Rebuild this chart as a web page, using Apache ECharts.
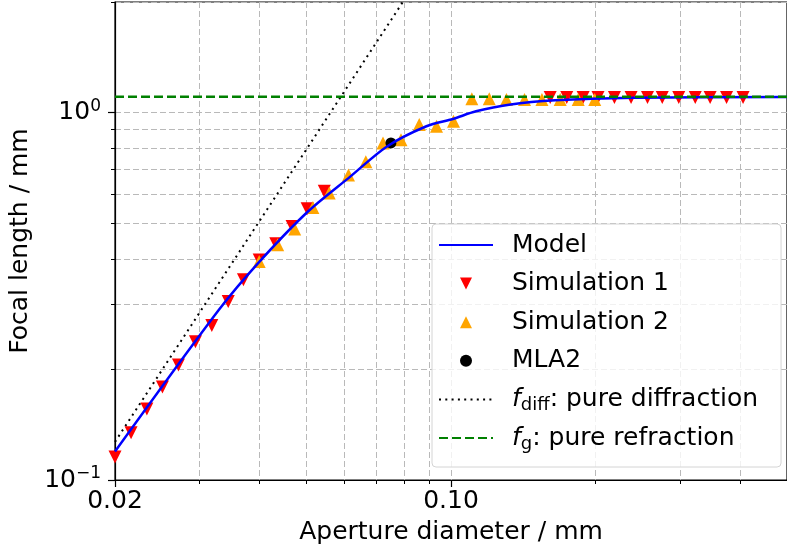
<!DOCTYPE html>
<html>
<head>
<meta charset="utf-8">
<script src="https://cdn.jsdelivr.net/npm/echarts@6/dist/echarts.min.js"></script>
<style>
  html, body { margin: 0; padding: 0; background: #fff; }
  #main { width: 787px; height: 556px; }
</style>
</head>
<body>
<div id="main"></div>
<script>
// aperture diameter (mm) / focal length (mm)
var sim1D = [0.0200, 0.0216, 0.0233, 0.0251, 0.0271, 0.0294, 0.0318, 0.0344, 0.0370, 0.0399,
             0.0432, 0.0467, 0.0502, 0.0545,
             0.1608, 0.1741, 0.1883, 0.2022, 0.2188, 0.2369, 0.2563, 0.2751, 0.2977, 0.3222,
             0.3460, 0.3743, 0.4051];
var sim1F = [0.1155, 0.1345, 0.156, 0.179, 0.2057, 0.238, 0.2633, 0.306, 0.3507, 0.397,
             0.4396, 0.49, 0.5475, 0.6104,
             1.10, 1.10, 1.10, 1.10, 1.10, 1.10, 1.10, 1.10, 1.10, 1.10,
             1.10, 1.10, 1.10];

var sim2D = [0.0399, 0.0436, 0.0473, 0.0516, 0.0558, 0.0612, 0.0665, 0.0722, 0.0787, 0.0859,
             0.0933, 0.1012, 0.1105, 0.1201, 0.1304, 0.1422, 0.1546, 0.1687, 0.1839, 0.1991];
var sim2F = [0.393, 0.437, 0.482, 0.552, 0.604, 0.676, 0.735, 0.826, 0.844, 0.928,
             0.918, 0.947, 1.090, 1.090, 1.085, 1.085, 1.085, 1.085, 1.085, 1.085];

var modelD = [0.02, 0.0329, 0.04, 0.0504, 0.0618, 0.0736, 0.0889, 0.1009, 0.1127, 0.132,
              0.1647, 0.2405, 0.5];
var modelF = [0.1195, 0.2905, 0.3935, 0.538, 0.6706, 0.809, 0.918, 0.961, 1.008, 1.051,
              1.080, 1.097, 1.103];

var mlaD = [0.0750];
var mlaF = [0.827];

var diffD = [0.02, 0.0794];
var diffF = [0.127, 2.0];

var refrD = [0.02, 0.5];
var refrF = [1.104, 1.104];

var xMajor = [0.02, 0.1];
var xMajorLabels = ['0.02', '0.10'];
var xMinor = [0.03, 0.04, 0.05, 0.06, 0.07, 0.08, 0.09, 0.2, 0.3, 0.4];
var yMajor = [0.1, 1];
var yMajorLabels = ['{b|10}{sup|\u22121}', '{b|10}{sup|0}'];
var yMinor = [0.2, 0.3, 0.4, 0.5, 0.6, 0.7, 0.8, 0.9, 2];

var legendTexts = {
  fdiff: '{i|f}{sub|diff}: pure diffraction',
  fg: '{i|f}{sub|g}: pure refraction'
};

function pairs(xs, ys) {
  return xs.map(function (x, i) { return [x, ys[i]]; });
}
function nearestLabel(v, ticks, labels) {
  var best = 0;
  for (var i = 1; i < ticks.length; i++) {
    if (Math.abs(Math.log(v / ticks[i])) < Math.abs(Math.log(v / ticks[best]))) best = i;
  }
  return labels[best];
}

var font = 'DejaVu Sans';
var gridStyle = { color: '#b9b9b9', width: 1, type: [6, 3] };
var triDown = 'path://M0,0 L2,0 L1,2 Z';
var triUp = 'path://M1,0 L2,2 L0,2 Z';
var noMarker = { opacity: 0 };

var chart = echarts.init(document.getElementById('main'));

var option = {
  animation: false,
  textStyle: { fontFamily: font },
  grid: {
    left: 115, right: -8, top: 2, bottom: 76,
    show: true, borderColor: '#000', borderWidth: 1.2, backgroundColor: 'transparent'
  },
  xAxis: [
    {
      type: 'log', min: 0.02, max: 0.5, position: 'bottom',
      name: 'Aperture diameter / mm', nameLocation: 'middle', nameGap: 40,
      nameTextStyle: { fontSize: 25, color: '#000', fontFamily: font },
      axisLine: { lineStyle: { color: '#000', width: 1.2 } },
      axisTick: { customValues: xMajor, length: 7, lineStyle: { color: '#000', width: 1.2 } },
      axisLabel: {
        customValues: xMajor, fontSize: 25, color: '#000', margin: 9, fontFamily: font,
        formatter: function (v) { return nearestLabel(v, xMajor, xMajorLabels); }
      },
      splitLine: { show: true, lineStyle: gridStyle }
    },
    {
      type: 'log', min: 0.02, max: 0.5, position: 'bottom',
      axisLine: { show: false },
      axisTick: { customValues: xMinor, length: 4, lineStyle: { color: '#000', width: 1 } },
      axisLabel: { show: false },
      splitLine: { show: true, lineStyle: gridStyle }
    }
  ],
  yAxis: [
    {
      type: 'log', min: 0.1, max: 2, position: 'left',
      name: 'Focal length / mm', nameLocation: 'middle', nameGap: 69, nameRotate: 90,
      nameTextStyle: { fontSize: 25, color: '#000', fontFamily: font },
      axisLine: { lineStyle: { color: '#000', width: 1.2 } },
      axisTick: { customValues: yMajor, length: 7, lineStyle: { color: '#000', width: 1.2 } },
      axisLabel: {
        customValues: yMajor, margin: 14, color: '#000',
        formatter: function (v) { return nearestLabel(v, yMajor, yMajorLabels); },
        rich: {
          b: { fontSize: 25, lineHeight: 30, fontFamily: font, color: '#000' },
          sup: { fontSize: 17, lineHeight: 17, verticalAlign: 'top', fontFamily: font, color: '#000' }
        }
      },
      splitLine: { show: true, lineStyle: gridStyle }
    },
    {
      type: 'log', min: 0.1, max: 2, position: 'left',
      axisLine: { show: false },
      axisTick: { customValues: yMinor, length: 4, lineStyle: { color: '#000', width: 1 } },
      axisLabel: { show: false },
      splitLine: { show: true, lineStyle: gridStyle }
    }
  ],
  legend: {
    orient: 'vertical', left: 432, top: 224,
    padding: [6, 23, 14, 6], itemGap: 8.6, itemWidth: 54, itemHeight: 12,
    backgroundColor: 'rgba(255,255,255,0.8)', borderColor: '#d4d4d4', borderWidth: 1, borderRadius: 4,
    data: [
      { name: 'Model', itemStyle: noMarker },
      { name: 'Simulation 1', icon: triDown },
      { name: 'Simulation 2', icon: triUp },
      { name: 'MLA2', icon: 'circle' },
      { name: 'fdiff', itemStyle: noMarker },
      { name: 'fg', itemStyle: noMarker }
    ],
    formatter: function (n) { return legendTexts[n] || n; },
    textStyle: {
      fontSize: 25, color: '#000', lineHeight: 30, fontFamily: font, padding: [0, 0, 0, 14],
      rich: {
        i: { fontSize: 25, lineHeight: 30, fontStyle: 'italic', fontFamily: font, color: '#000' },
        sub: { fontSize: 18, lineHeight: 14, verticalAlign: 'bottom', fontFamily: font, color: '#000' }
      }
    }
  },
  series: [
    {
      name: 'Simulation 1', type: 'scatter', data: pairs(sim1D, sim1F),
      symbol: 'triangle', symbolRotate: 180, symbolSize: 13,
      itemStyle: { color: '#ff0000', opacity: 1 }
    },
    {
      name: 'Simulation 2', type: 'scatter', data: pairs(sim2D, sim2F),
      symbol: 'triangle', symbolSize: 13,
      itemStyle: { color: '#ffa500', opacity: 1 }
    },
    {
      name: 'Model', type: 'line', data: pairs(modelD, modelF),
      symbol: 'none', smooth: 0.3,
      lineStyle: { color: '#0000ff', width: 2.5 }, itemStyle: { color: '#0000ff' }
    },
    {
      name: 'fdiff', type: 'line', data: pairs(diffD, diffF),
      symbol: 'none',
      lineStyle: { color: '#000', width: 2, type: [2, 4.3] }, itemStyle: { color: '#000' }
    },
    {
      name: 'fg', type: 'line', data: pairs(refrD, refrF),
      symbol: 'none',
      lineStyle: { color: '#008000', width: 2.5, type: [9, 4] }, itemStyle: { color: '#008000' }
    },
    {
      name: 'MLA2', type: 'scatter', data: pairs(mlaD, mlaF),
      symbol: 'circle', symbolSize: 11,
      itemStyle: { color: '#000', opacity: 1 }
    }
  ]
};

chart.setOption(option);
</script>
</body>
</html>
